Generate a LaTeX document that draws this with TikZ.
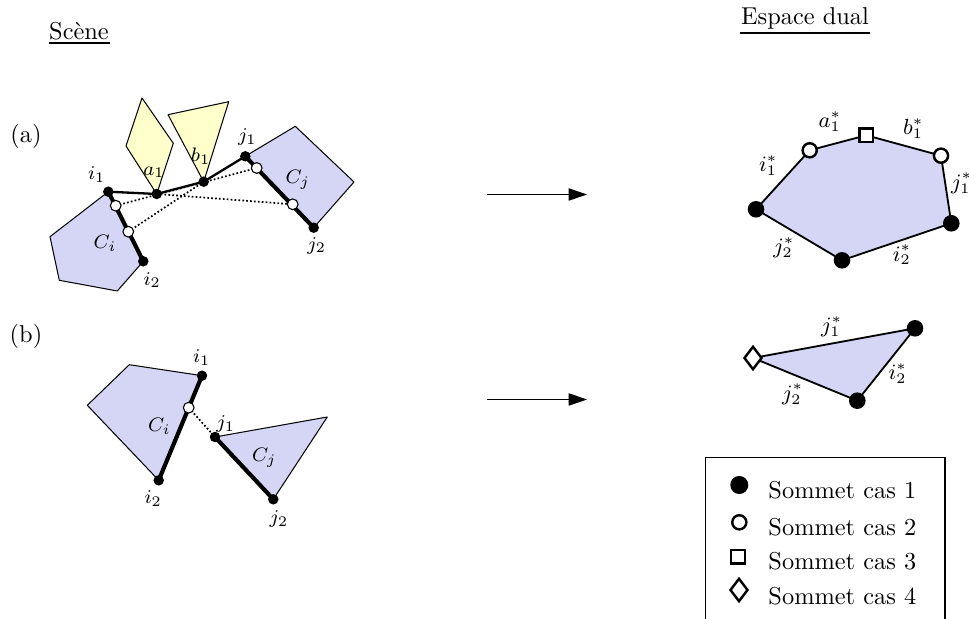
\documentclass[tikz,border=0pt]{standalone}
\usepackage{amsmath}
\usetikzlibrary{shapes.geometric,arrows.meta}
\definecolor{blueP}{RGB}{213,214,245}
\definecolor{yelP}{RGB}{255,255,204}
\tikzset{
 x=0.41pt,y=-0.41pt,
 poly/.style={draw=black,line width=0.42pt,line join=round},
 edgeA/.style={line width=0.95pt,line cap=round},
 edgeB/.style={line width=1.7pt,line cap=round},
 dots/.style={line width=0.7pt,dash pattern=on 0.7pt off 0.9pt},
 dualE/.style={draw=black,fill=blueP,line width=0.75pt},
 bpt/.style={circle,fill=black,inner sep=0pt,minimum size=4.3pt},
 wpt/.style={circle,draw=black,fill=white,line width=0.45pt,inner sep=0pt,minimum size=4.4pt},
 case1/.style={circle,fill=black,inner sep=0pt,minimum size=6.8pt},
 case2/.style={circle,draw=black,fill=white,line width=1pt,inner sep=0pt,minimum size=5.8pt},
 case3/.style={rectangle,draw=black,fill=white,line width=1pt,inner sep=0pt,minimum size=5.6pt},
 case4/.style={diamond,draw=black,fill=white,line width=1pt,inner sep=0pt,minimum width=7.4pt,minimum height=9.6pt},
 lab/.style={font=\footnotesize,inner sep=0pt},
 dlab/.style={font=\small,inner sep=0pt},
 txt/.style={inner sep=0pt},
 flow/.style={-{Triangle[length=7.5pt,width=5pt]},line width=0.45pt},
 rulel/.style={line width=0.95pt}
}
\begin{document}
\begin{tikzpicture}
\useasboundingbox (0,0) rectangle (969,619);
% scene a coordinates
\coordinate (i1) at (108.3,191.7);
\coordinate (a1) at (156.7,194);
\coordinate (b1) at (203.7,181.7);
\coordinate (j1) at (245.3,156.3);
\coordinate (j2) at (313.7,227.7);
\coordinate (i2) at (143.3,261.3);
\coordinate (w1) at (115.7,205.7);
\coordinate (w2) at (128.3,231.7);
\coordinate (w3) at (256.7,168);
\coordinate (w4) at (292.7,204.3);
\draw[poly,fill=blueP] (i1) -- (50,236.7) -- (59.3,280.3) -- (117.3,291) -- (i2);
\draw[poly,fill=blueP] (j1) -- (295.3,126.3) -- (354,182) -- (j2);
\draw[poly,fill=yelP] (142,98) -- (173.3,143.3) -- (a1) -- (126,146) -- cycle;
\draw[poly,fill=yelP] (168,114.7) -- (228.7,101.7) -- (b1) -- cycle;
\draw[edgeA] (i1) -- (a1) -- (b1) -- (j1);
\draw[edgeB] (i1) -- (i2);
\draw[edgeB] (j1) -- (j2);
\draw[dots] (w1) -- (w3);
\draw[dots] (w2) -- (b1);
\draw[dots] (a1) -- (w4);
\foreach \p in {i1,a1,b1,j1,j2,i2} \node[bpt] (n\p) at (\p) {};
\foreach \p in {w1,w2,w3,w4} \node[wpt] (n\p) at (\p) {};
\node[lab] (li1) at (96.7,174.5) {$i_1$};
\node[lab] (la1) at (154,172.3) {$a_1$};
\node[lab] (lb1) at (200.7,156) {$b_1$};
\node[lab] (lj1) at (247.3,137.3) {$j_1$};
\node[lab] (lj2) at (316.7,245.7) {$j_2$};
\node[lab] (li2) at (152.3,280) {$i_2$};
\node[lab] (lci) at (105,243.3) {$C_i$};
\node[lab] (lcj) at (297.7,180) {$C_j$};
% scene b
\coordinate (bi1) at (202,375.7);
\coordinate (bi2) at (158.7,480.3);
\coordinate (bw) at (188.7,407.7);
\coordinate (bj1) at (215,437);
\coordinate (bj2) at (273.3,499.3);
\draw[poly,fill=blueP] (bi1) -- (129.3,364.7) -- (87.3,405.3) -- (bi2);
\draw[poly,fill=blueP] (bj1) -- (327.3,417) -- (bj2);
\draw[edgeB] (bi1) -- (bi2);
\draw[edgeB] (bj1) -- (bj2);
\draw[dots] (bw) -- (bj1);
\foreach \p in {bi1,bi2,bj1,bj2} \node[bpt] (n\p) at (\p) {};
\node[wpt] (nbw) at (bw) {};
\node[lab] (lbi1) at (201.7,357.7) {$i_1$};
\node[lab] (lbi2) at (153.3,498.3) {$i_2$};
\node[lab] (lbj1) at (225.7,424.3) {$j_1$};
\node[lab] (lbj2) at (279,519.3) {$j_2$};
\node[lab] (lbci) at (159.3,426) {$C_i$};
\node[lab] (lbcj) at (264.3,457.7) {$C_j$};
% dual a
\coordinate (p1) at (756,209.3);
\coordinate (p2) at (809.7,150.3);
\coordinate (p3) at (866.3,135.3);
\coordinate (p4) at (941,155.7);
\coordinate (p5) at (951.3,223.3);
\coordinate (p6) at (842,260.3);
\draw[dualE] (p1) -- (p2) -- (p3) -- (p4) -- (p5) -- (p6) -- cycle;
\node[case1] (d1) at (p1) {};
\node[case2] (d2) at (p2) {};
\node[case3] (d3) at (p3) {};
\node[case2] (d4) at (p4) {};
\node[case1] (d5) at (p5) {};
\node[case1] (d6) at (p6) {};
\node[dlab] (da) at (830,121.7) {$a_1^*$};
\node[dlab] (db) at (913.3,128.3) {$b_1^*$};
\node[dlab] (di) at (768.3,165.3) {$i_1^*$};
\node[dlab] (dj) at (961.7,183.3) {$j_1^*$};
\node[dlab] (dj2) at (784,247.7) {$j_2^*$};
\node[dlab] (di2) at (902,255) {$i_2^*$};
% dual b
\coordinate (q1) at (915,328.3);
\coordinate (q2) at (753,358);
\coordinate (q3) at (857.3,400.7);
\draw[dualE] (q1) -- (q2) -- (q3) -- cycle;
\node[case1] (e1) at (q1) {};
\node[case4] (e2) at (q2) {};
\node[case1] (e3) at (q3) {};
\node[dlab] (ej1) at (831.7,326.7) {$j_1^*$};
\node[dlab] (ei2) at (897.7,373.3) {$i_2^*$};
\node[dlab] (ej2) at (792.7,394.3) {$j_2^*$};
% arrows
\coordinate (a0) at (487,194.5); \coordinate (a2) at (587,194.5);
\coordinate (b0) at (487,399.5); \coordinate (b2) at (587,399.5);
\draw[flow] (a0) -- (a2);
\draw[flow] (b0) -- (b2);
% titles
\node[txt,anchor=base] (t1) at (79,39.3) {Scène};
\node[txt,anchor=base] (t2) at (805,25) {Espace dual};
\coordinate (u1) at (49,43); \coordinate (u2) at (110,43);
\coordinate (v1) at (740,33); \coordinate (v2) at (870,33);
\draw[rulel] (u1) -- (u2);
\draw[rulel] (v1) -- (v2);
\node[txt] (ta) at (26,136) {(a)};
\node[txt] (tb) at (26,336) {(b)};
% legend
\coordinate (g1) at (705.7,619); \coordinate (g2) at (705.7,457.3);
\coordinate (g3) at (945,457.3); \coordinate (g4) at (945,619);
\draw[line width=0.42pt] (g1) -- (g2) -- (g3) -- (g4);
\node[case1,minimum size=7.4pt] (k1) at (739.3,485) {};
\node[case2] (k2) at (739.3,522.3) {};
\node[case3] (k3) at (738,556.7) {};
\node[case4] (k4) at (739,590) {};
\foreach \y/\n in {490/1,527/2,561/3,596/4}
 \node[txt,anchor=west] (s\n) at (768,\y) {Sommet cas \n};
\end{tikzpicture}
\end{document}
